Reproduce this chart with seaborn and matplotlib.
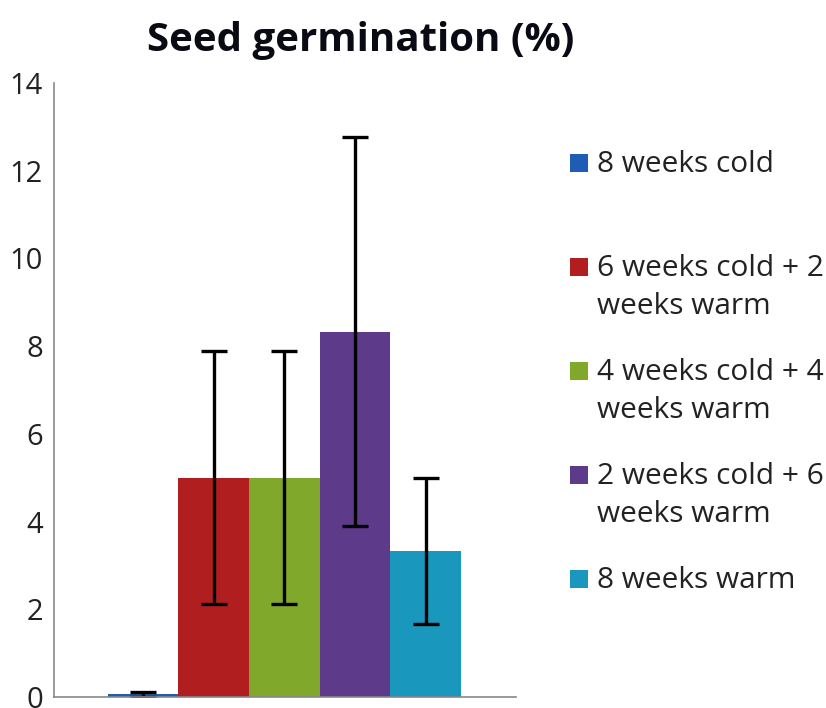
import matplotlib
matplotlib.use("Agg")
import matplotlib.pyplot as plt
import matplotlib.patches as mpatches
import numpy as np
import pandas as pd
import seaborn as sns

# Seed germination (%) per treatment, with error bars
treatments = [
    "8 weeks cold",
    "6 weeks cold + 2\nweeks warm",
    "4 weeks cold + 4\nweeks warm",
    "2 weeks cold + 6\nweeks warm",
    "8 weeks warm",
]
germination = [0.06, 5.0, 5.0, 8.33, 3.33]
errors = [0.06, 2.88, 2.88, 4.44, 1.67]
colors = ["#1F5CB4", "#B01E1F", "#80A82B", "#5D3A8A", "#1A97BC"]

df = pd.DataFrame({"treatment": treatments, "germination": germination})

sns.set_style("white")
plt.rcParams["font.family"] = ["Open Sans", "DejaVu Sans"]

W, H = 826, 708
fig = plt.figure(figsize=(W / 100, H / 100), dpi=100)
ax = fig.add_axes([54 / W, 1 - 697 / H, (516 - 54) / W, (697 - 83) / H])

sns.barplot(
    data=df, x="treatment", y="germination", hue="treatment",
    palette=colors, width=1.0, legend=False, ax=ax, errorbar=None,
    saturation=1, linewidth=0,
)
ax.errorbar(
    np.arange(len(treatments)), germination, yerr=errors,
    fmt="none", ecolor="black", elinewidth=2.4, capsize=9.5, capthick=2.4,
)

ax.set_xlim(-1.26, 5.28)
ax.set_ylim(0, 14)
ax.set_yticks(np.arange(0, 15, 2))
ax.set_xticks([])
ax.set_xlabel("")
ax.set_ylabel("")
ax.tick_params(axis="y", length=0, labelsize=21, labelcolor="#222222", pad=8)
sns.despine(ax=ax)
for side in ["left", "bottom"]:
    ax.spines[side].set_color("#888888")
    ax.spines[side].set_linewidth(1.2)

fig.text(361 / W, 1 - 40 / H, "Seed germination (%)", ha="center", va="center",
         fontsize=29, fontweight="bold", color="#0a0a14")

# legend: square swatch aligned with the first line of each label
for i, (label, c) in enumerate(zip(treatments, colors)):
    y = 163 + 104 * i
    fig.patches.append(mpatches.Rectangle(
        (570 / W, 1 - (y + 9) / H), 18 / W, 18 / H,
        transform=fig.transFigure, facecolor=c, edgecolor="none"))
    fig.text(597 / W, 1 - (y - 13) / H, label, ha="left", va="top",
             fontsize=21.5, color="#222222", linespacing=1.42)

fig.savefig("out.png", dpi=100, facecolor="white")
